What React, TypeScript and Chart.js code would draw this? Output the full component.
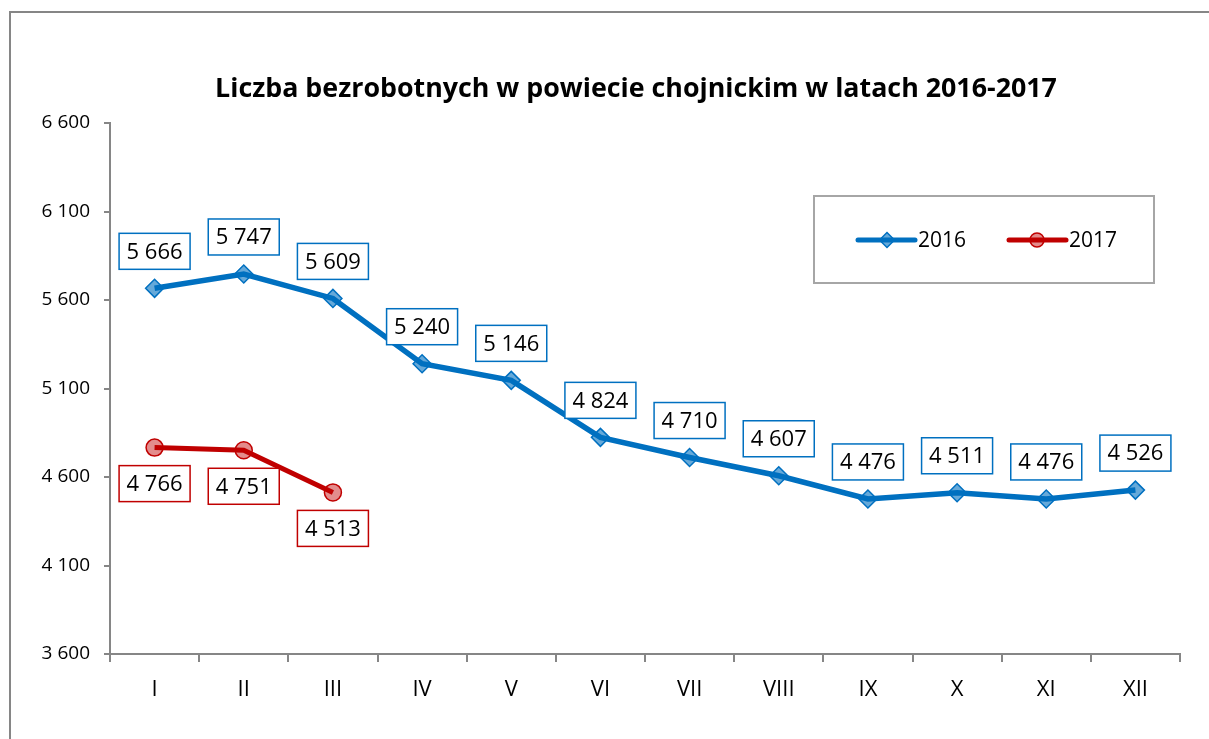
import React, { useEffect, useRef } from "react";
import { Chart, registerables } from "chart.js";

Chart.register(...registerables);

const months = ["I", "II", "III", "IV", "V", "VI", "VII", "VIII", "IX", "X", "XI", "XII"];
const values2016 = [5666, 5747, 5609, 5240, 5146, 4824, 4710, 4607, 4476, 4511, 4476, 4526];
const values2017 = [4766, 4751, 4513];
const seriesNames = ["2016", "2017"];
const titleText = "Liczba bezrobotnych w powiecie chojnickim w latach 2016-2017";
const yMin = 3600;
const yMax = 6600;
const yStep = 500;

const BLUE = "#0070C0";
const BLUE_FILL = "rgba(0,112,192,0.6)";
const RED = "#C00000";
const RED_FILL = "rgba(192,0,0,0.45)";
const AXIS = "#868686";
const FONT = "'Open Sans', 'Noto Sans', sans-serif";

const fmt = (v: number) => {
  const th = Math.floor(v / 1000);
  const rest = String(v % 1000).padStart(3, "0");
  return th > 0 ? `${th} ${rest}` : String(v);
};

const decorPlugin = {
  id: "decor",
  beforeDraw(chart: any) {
    const ctx = chart.ctx;
    ctx.save();
    ctx.fillStyle = "#fff";
    ctx.fillRect(0, 0, chart.width, chart.height);
    ctx.strokeStyle = AXIS;
    ctx.lineWidth = 2;
    ctx.strokeRect(10, 12, 3000, 3000);
    // title
    ctx.fillStyle = "#000";
    let size = 26;
    ctx.font = `bold ${size}px ${FONT}`;
    const w = ctx.measureText(titleText).width;
    size = (size * 842) / w;
    ctx.font = `bold ${size}px ${FONT}`;
    ctx.textAlign = "center";
    ctx.textBaseline = "middle";
    ctx.fillText(titleText, 636, 89);
    ctx.restore();
  },
  afterDraw(chart: any) {
    const ctx = chart.ctx;
    ctx.save();
    // legend box
    ctx.strokeStyle = "#A6A6A6";
    ctx.lineWidth = 2;
    ctx.fillStyle = "#fff";
    ctx.fillRect(814, 196, 340, 87);
    ctx.strokeRect(814, 196, 340, 87);
    const ly = 240;
    const items = [
      { x0: 858, x1: 915, cx: 887, tx: 918, color: BLUE, fill: BLUE_FILL, style: "diamond" },
      { x0: 1009, x1: 1066, cx: 1037, tx: 1069, color: RED, fill: RED_FILL, style: "circle" },
    ];
    items.forEach((it, i) => {
      ctx.strokeStyle = it.color;
      ctx.lineWidth = 5;
      ctx.lineCap = "round";
      ctx.beginPath();
      ctx.moveTo(it.x0, ly);
      ctx.lineTo(it.x1, ly);
      ctx.stroke();
      ctx.lineWidth = 1.5;
      ctx.fillStyle = it.fill;
      ctx.beginPath();
      if (it.style === "diamond") {
        const r = 7.5;
        ctx.moveTo(it.cx - r, ly);
        ctx.lineTo(it.cx, ly - r);
        ctx.lineTo(it.cx + r, ly);
        ctx.lineTo(it.cx, ly + r);
        ctx.closePath();
      } else {
        ctx.arc(it.cx, ly, 7, 0, Math.PI * 2);
      }
      ctx.fill();
      ctx.stroke();
      ctx.fillStyle = "#000";
      ctx.font = `21px ${FONT}`;
      ctx.textAlign = "left";
      ctx.textBaseline = "middle";
      ctx.fillText(seriesNames[i], it.tx, ly + 1);
    });
    ctx.restore();
  },
  afterDatasetsDraw(chart: any) {
    const ctx = chart.ctx;
    ctx.save();
    chart.data.datasets.forEach((ds: any, di: number) => {
      const meta = chart.getDatasetMeta(di);
      const offset = di === 0 ? -37 : 36;
      const color = di === 0 ? BLUE : RED;
      meta.data.forEach((pt: any, i: number) => {
        const v = ds.data[i];
        if (v == null) return;
        const cx = pt.x;
        const cy = pt.y + offset;
        const bw = 71;
        const bh = 36;
        ctx.fillStyle = "#fff";
        ctx.fillRect(cx - bw / 2, cy - bh / 2, bw, bh);
        ctx.strokeStyle = color;
        ctx.lineWidth = 1.5;
        ctx.strokeRect(cx - bw / 2, cy - bh / 2, bw, bh);
        ctx.fillStyle = "#000";
        ctx.font = `22px ${FONT}`;
        ctx.textAlign = "center";
        ctx.textBaseline = "middle";
        ctx.fillText(fmt(v), cx, cy + 1);
      });
    });
    ctx.restore();
  },
};

export default function App() {
  const ref = useRef<HTMLCanvasElement | null>(null);
  useEffect(() => {
    if (!ref.current) return;
    const chart = new Chart(ref.current, {
      type: "line",
      data: {
        labels: months,
        datasets: [
          {
            label: seriesNames[0],
            data: values2016,
            borderColor: BLUE,
            backgroundColor: BLUE_FILL,
            borderWidth: 5.5,
            tension: 0,
            pointStyle: "rectRot",
            pointRadius: 9,
            pointBorderWidth: 1.5,
            pointBorderColor: BLUE,
            pointBackgroundColor: BLUE_FILL,
          },
          {
            label: seriesNames[1],
            data: values2017,
            borderColor: RED,
            backgroundColor: RED_FILL,
            borderWidth: 5,
            tension: 0,
            pointStyle: "circle",
            pointRadius: 8.5,
            pointBorderWidth: 1.5,
            pointBorderColor: RED,
            pointBackgroundColor: RED_FILL,
          },
        ],
      },
      options: {
        responsive: false,
        animation: false,
        layout: { padding: { top: 123, right: 29, bottom: 0, left: 0 } },
        plugins: {
          legend: { display: false },
          title: { display: false },
          tooltip: { enabled: false },
        },
        scales: {
          x: {
            offset: true,
            grid: {
              offset: true,
              drawOnChartArea: false,
              drawTicks: true,
              tickLength: 8,
              color: AXIS,
              lineWidth: 2,
            },
            border: { display: true, color: AXIS, width: 2 },
            ticks: {
              color: "#000",
              font: { family: FONT, size: 22 },
              padding: 15,
            },
            afterFit: (s: any) => {
              s.height = 85;
            },
          },
          y: {
            min: yMin,
            max: yMax,
            grid: {
              drawOnChartArea: false,
              drawTicks: true,
              tickLength: 6,
              color: AXIS,
              lineWidth: 2,
            },
            border: { display: true, color: AXIS, width: 2 },
            ticks: {
              stepSize: yStep,
              color: "#000",
              font: { family: FONT, size: 19 },
              padding: 14,
              callback: (v: any) => fmt(Number(v)),
            },
            afterFit: (s: any) => {
              s.width = 110;
            },
          },
        },
      },
      plugins: [decorPlugin],
    });
    return () => chart.destroy();
  }, []);
  return (
    <div style={{ position: "absolute", left: 0, top: 0, width: 1209, height: 739, background: "#fff" }}>
      <canvas ref={ref} width={1209} height={739} style={{ width: 1209, height: 739, display: "block" }} />
    </div>
  );
}
